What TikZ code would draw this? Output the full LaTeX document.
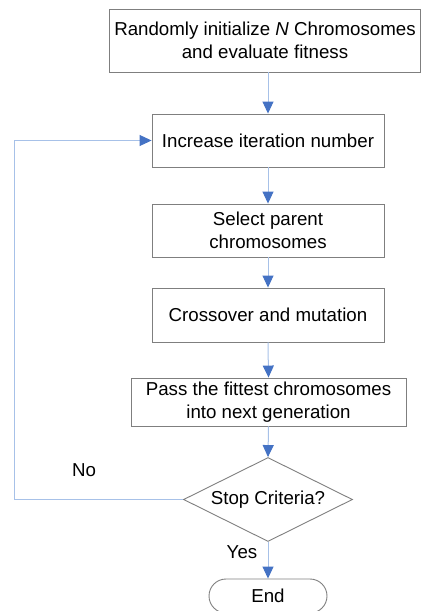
\documentclass[tikz,border=0pt]{standalone}
\usepackage{fontspec}
\setmainfont{Liberation Sans}
\usetikzlibrary{arrows.meta,shapes.geometric,shapes.misc}
\definecolor{boxgray}{HTML}{7F7F7F}
\definecolor{linblue}{HTML}{A7C1E8}
\definecolor{tipblue}{HTML}{4472C4}
\begin{document}
\begin{tikzpicture}[x=1pt,y=-1pt,
  stepbox/.style={draw=boxgray,line width=0.9pt,rectangle,inner sep=0pt,align=center,font=\fontsize{18.7}{23}\selectfont},
  conn/.style={draw=linblue,line width=1pt,-{Triangle[width=11pt,length=12pt,color=tipblue]}},
  lbl/.style={font=\fontsize{18.7}{23}\selectfont,inner sep=0pt}]
\useasboundingbox (0,0) rectangle (421,611);
\clip (0,0) rectangle (421,611);
\node[stepbox,minimum width=311pt,minimum height=63pt] (init) at (265,40.5) {Randomly initialize \textit{N} Chromosomes\\and evaluate fitness};
\node[stepbox,minimum width=232pt,minimum height=53pt] (inc) at (268,140.5) {Increase iteration number};
\node[stepbox,minimum width=232pt,minimum height=53pt] (sel) at (268,230.5) {Select parent\\chromosomes};
\node[stepbox,minimum width=232pt,minimum height=54pt] (cross) at (268,315) {Crossover and mutation};
\node[stepbox,minimum width=275pt,minimum height=48pt] (pass) at (268.5,402) {Pass the fittest chromosomes\\into next generation};
\node[diamond,draw=boxgray,line width=0.9pt,minimum width=169pt,minimum height=84pt,inner sep=0pt,aspect=2,font=\fontsize{18.7}{23}\selectfont] (stop) at (268,499.5) {Stop Criteria?};
\node[rounded rectangle,draw=boxgray,line width=0.9pt,minimum width=118pt,minimum height=34pt,inner sep=0pt,font=\fontsize{18.7}{23}\selectfont] (end) at (268,596) {End};
\node[lbl] (no) at (84,470) {No};
\node[lbl] (yes) at (242,552) {Yes};
\coordinate (lb) at (14,499.5);
\coordinate (lt) at (14,140.5);
\draw[conn] (268,72) -- (inc.north);
\draw[conn] (inc.south) -- (sel.north);
\draw[conn] (sel.south) -- (cross.north);
\draw[conn] (cross.south) -- (pass.north);
\draw[conn] (pass.south) -- (stop.north);
\draw[conn] (stop.south) -- (end.north);
\draw[conn] (stop.west) -- (lb) -- (lt) -- (inc.west);
\end{tikzpicture}
\end{document}
